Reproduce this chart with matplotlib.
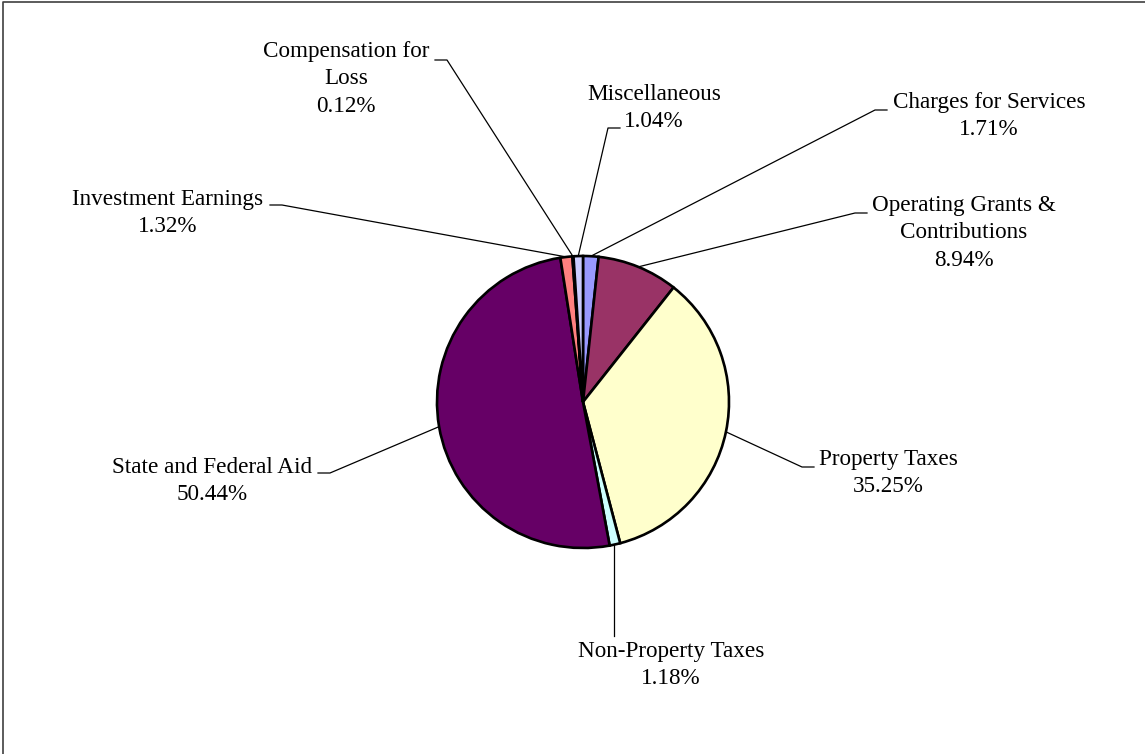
import numpy as np
import matplotlib.pyplot as plt

# Revenue shares (percent), clockwise from 12 o'clock
categories = ['Charges for Services', 'Operating Grants &\nContributions', 'Property Taxes',
              'Non-Property Taxes', 'State and Federal Aid', 'Investment Earnings',
              'Compensation for\nLoss', 'Miscellaneous']
shares = [1.71, 8.94, 35.25, 1.18, 50.44, 1.32, 0.12, 1.04]
colors = ['#9999FF', '#993366', '#FFFFCC', '#CCFFFF', '#660066', '#FF8080', '#0066CC', '#CCCCFF']

W, H = 1145, 754
plt.rcParams['font.family'] = ['Liberation Serif', 'DejaVu Serif']

fig = plt.figure(figsize=(W / 100, H / 100), dpi=100)
ax = fig.add_axes([0, 0, 1, 1])

cx, cy, r = 583, H - 402, 146
wedges, _ = ax.pie(shares, colors=colors, startangle=90, counterclock=False,
                   center=(cx, cy), radius=r,
                   wedgeprops=dict(edgecolor='black', linewidth=1.9))

# label placement (text centre, elbow point, side of short tick) in pixel coords
layout = [
    ((989, 116), (875, 110), +1),
    ((964, 233), (855, 213), +1),
    ((888, 473), (802, 467), +1),
    ((671, 665), (614, 636), 0),
    ((212, 481), (330, 473), -1),
    ((168, 213), (282, 205), -1),
    ((346, 79), (447, 60), -1),
    ((654, 108), (608, 128), +1),
]

for w, cat, val, (tpos, elbow, side) in zip(wedges, categories, shares, layout):
    mid = np.deg2rad((w.theta1 + w.theta2) / 2)
    px, py = cx + r * np.cos(mid), cy + r * np.sin(mid)
    ex, ey = elbow[0], H - elbow[1]
    if side == 0:
        ax.plot([ex, ex], [py, ey], color='black', lw=0.9)
    else:
        ax.plot([px, ex, ex + 12 * side], [py, ey, ey], color='black', lw=0.9)
    ax.text(tpos[0], H - tpos[1], f'{cat}\n{val:.2f}%', ha='center', va='center',
            fontsize=16.7, linespacing=1.42, multialignment='center')

# chart frame (left and top edges visible)
ax.plot([3, 3, W], [0, H - 2, H - 2], color='#404040', lw=1.2)

ax.set_xlim(0, W)
ax.set_ylim(0, H)
ax.set_aspect('equal')
ax.axis('off')

fig.savefig('out.png', dpi=100)
